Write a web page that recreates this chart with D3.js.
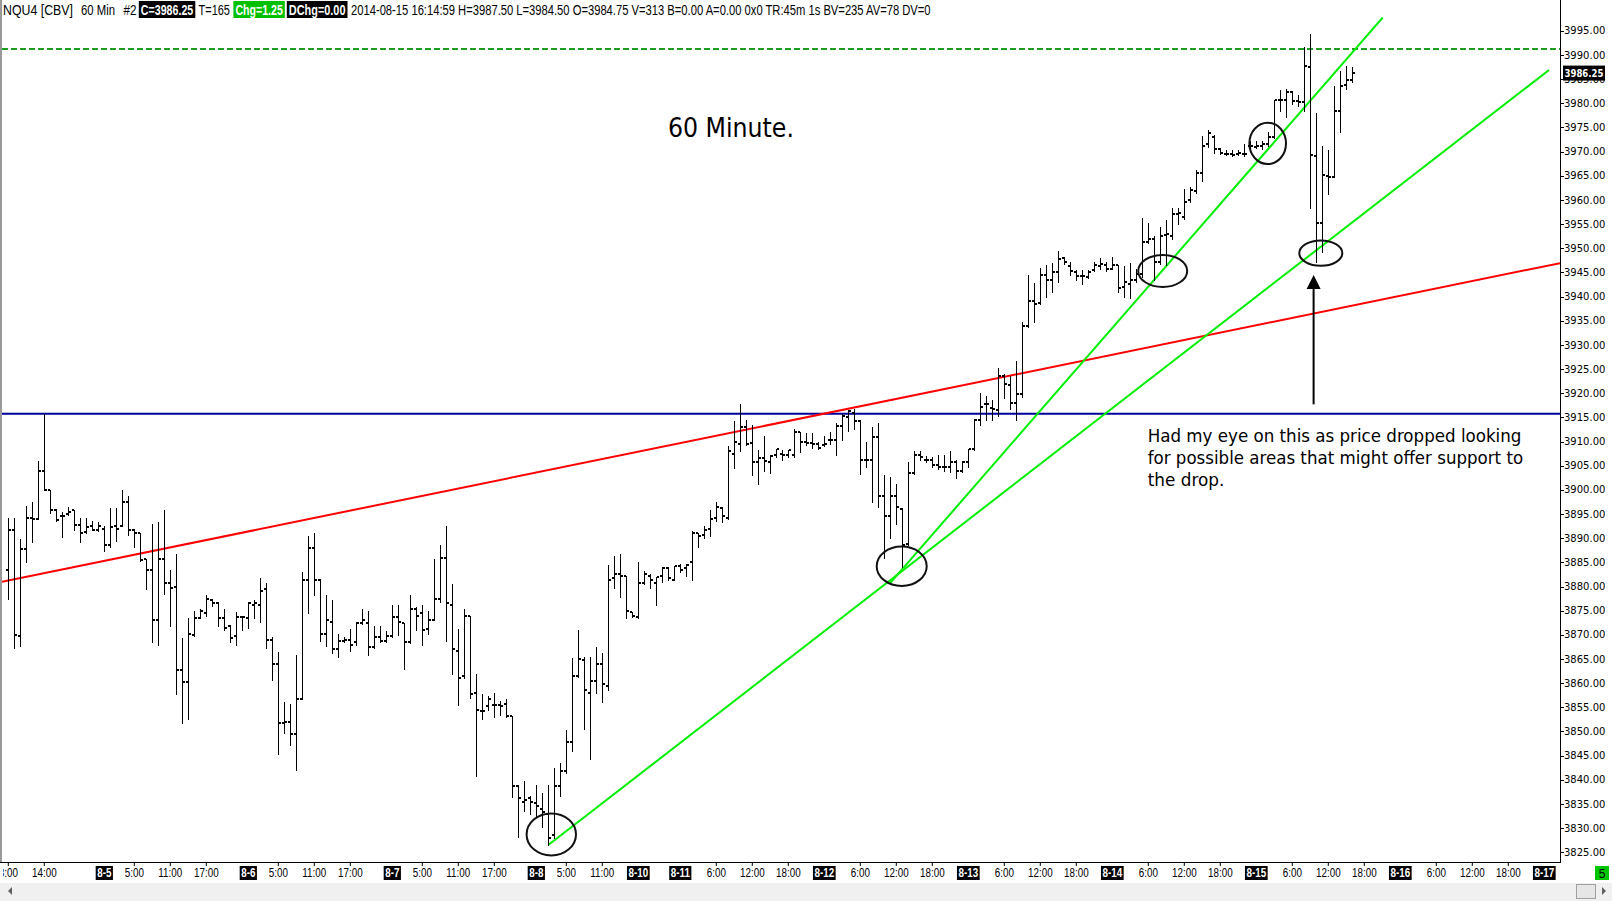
<!DOCTYPE html>
<html><head><meta charset="utf-8">
<script src="https://cdn.jsdelivr.net/npm/d3@7/dist/d3.min.js"></script>
<style>body{margin:0;background:#fff;overflow:hidden}svg{display:block}</style>
</head><body>
<svg id="chart" width="1612" height="901"></svg>
<script>
// ---- DATA (60-minute bars, NQU4) ----
const opens=[3883.5,3891.75,3869.75,3887.75,3894.25,3894,3904,3900,3895.75,3894.5,3895,3895.75,3892.75,3891.25,3892.5,3891.75,3892,3888.5,3892.5,3892.5,3897.5,3891.75,3891,3885.75,3883.5,3873,3885.75,3880.75,3880,3862.75,3860.25,3870,
3873.5,3874.5,3877.25,3876.5,3873.5,3871.75,3869.75,3873.75,3873.5,3876.25,3876.25,3879.5,3869,3864,3851.75,3852,3849.5,3856.75,3881.25,3888,3881.25,3870.25,3872.75,3867,3868.75,3869,3868.5,3872.5,3872.5,3867.5,3869.5,3868.75,
3869.75,3873.75,3872.5,3868.5,3875.25,3874.5,3871.25,3873,3877.5,3886,3876.25,3866.75,3861.5,3874,3858,3854.25,3855.25,3855.5,3855.5,3855.75,3853.25,3838.75,3835.5,3836.25,3835.25,3834,3833,3828.5,3838.75,3841.75,3847.75,3861.5,3864.75,
3858,3860.5,3864,3859.5,3881.75,3882.5,3882.25,3874.75,3873.75,3880.75,3882.25,3880.75,3882.25,3883.75,3881.25,3884.25,3883.75,3885,3891,3890.75,3892,3894.25,3896.25,3894.25,3907.5,3909.5,3913,3909.75,3905.75,3906.5,3905.75,3907.25,3907.5,
3907.25,3907.25,3912,3910,3909.75,3909.5,3909.25,3910.25,3910.25,3913.25,3915,3916,3914.25,3906.25,3906.25,3911,3898.75,3894.5,3898.75,3896,3888.75,3903.5,3907.25,3906.25,3906.25,3905.25,3904.75,3904.75,3905.75,3904,3905.75,3908.5,
3914.5,3917.75,3917,3916.5,3923.5,3921.75,3918,3919.75,3934,3939,3938.75,3944.5,3943.5,3945,3948,3946.25,3945,3944.25,3944,3945.5,3946.25,3946.5,3945.75,3946.5,3942,3942.5,3943.5,3944.75,3951.25,3952,3947.25,3952.75,3952.5,
3957,3956.5,3960,3961.75,3965.5,3971.5,3973,3970.5,3969.5,3969.5,3969.5,3969.5,3971.25,3971,3971.25,3971.5,3973,3980.75,3980.75,3982.25,3980.5,3980.25,3987.5,3969,3955.25,3965,3964.75,3978.5,3983.75,3984.75];
const highs=[3894.25,3894.25,3889.75,3896.75,3897.5,3906,3915.75,3900,3896,3895.5,3896.5,3895.75,3894.25,3894.25,3893.5,3893.25,3892.5,3896.25,3896.25,3900,3898.75,3892,3891,3885.75,3893,3893.25,3895.75,3883.5,3886.75,3869.25,3873.5,3875,
3875.25,3878.25,3877.5,3876.75,3875.25,3872,3874.75,3874,3876.75,3877.25,3881.75,3880.75,3869.5,3866.5,3856,3855.75,3865.75,3883,3890.5,3891,3881.5,3878.25,3877.25,3870.25,3869.5,3871.25,3872.75,3875.25,3875,3871.75,3871.75,3870.75,
3876.25,3876.25,3872.5,3878.25,3875.75,3876.25,3875,3885.75,3888.5,3892.5,3880.5,3871.25,3875.25,3874,3862,3857.75,3857.25,3858,3856.25,3856.75,3853.25,3839,3839.75,3836.75,3839,3837.25,3839,3842.5,3843.5,3850.25,3865.25,3871,3865.5,
3865.5,3867.5,3866.25,3884.5,3886.25,3886.75,3882.25,3874.75,3885,3883.25,3882.5,3882,3884,3884,3884.25,3884.75,3884.75,3891.5,3891,3892.5,3895.75,3897.5,3896.5,3909,3914.25,3917.75,3914.5,3913.5,3908.25,3911.25,3907.25,3908.5,3908.25,
3908.25,3912.5,3912,3911.75,3911.75,3910,3911.25,3912,3913.75,3915.75,3916.5,3916.75,3914.5,3910,3913,3913.75,3903,3902.75,3901.25,3896.25,3905.75,3908,3908,3907,3906.75,3907.25,3907.25,3908,3906.25,3906,3908.5,3914.75,
3920,3919.5,3918.5,3925.25,3924,3923.5,3926.75,3934.75,3944.5,3942.75,3946,3946.5,3947,3949.5,3948.25,3947.25,3945.5,3945.5,3945.5,3947.25,3948,3947.25,3948.25,3946.5,3946.25,3947,3945.75,3956.25,3955.25,3952.5,3954.5,3955.75,3958.25,
3958.25,3962.25,3962.75,3966.25,3973.25,3974.5,3973.5,3970.75,3970.25,3970.25,3970.25,3971.5,3972.25,3972.25,3972.25,3974,3980.75,3982.75,3983,3982.5,3981.75,3991.75,3994.25,3978,3971.25,3970.25,3983.5,3986.75,3987.75,3987.5];
const lows=[3877.5,3867.25,3867.75,3885,3889.25,3894,3900,3895.25,3893.5,3890.25,3894.75,3891.75,3889.25,3891,3891.75,3891.5,3887.25,3888.25,3889.5,3892.5,3890.75,3888.25,3885.25,3879.5,3868.5,3868,3878.5,3871.75,3857.75,3851.75,3852.5,3869.75,
3873.5,3874,3876,3871.75,3871,3868.5,3868,3871,3871.5,3873.5,3872.75,3867.25,3860.75,3845.25,3849.75,3847.25,3842,3856.75,3874.5,3878.25,3868.75,3867.75,3866.25,3865.5,3868.5,3866.75,3868,3872.25,3865.75,3867.25,3868.5,3868.5,
3869.5,3870,3863,3868.25,3871,3868,3870.25,3873,3876.75,3868.75,3862,3855.5,3861,3857,3840.75,3852.5,3854.5,3853,3853.5,3853,3836.5,3828.25,3833.5,3833,3832.5,3830.25,3826.5,3828,3836.75,3841.5,3846,3861.25,3850.5,
3844.25,3858,3856,3858.5,3879.75,3877.75,3873.5,3873.75,3873.5,3880.5,3879.75,3876.25,3881,3881.25,3881.25,3883,3882.25,3881.25,3888.25,3890,3890.5,3893.5,3893.25,3894,3904.5,3908,3909.25,3903,3901.25,3904,3903.5,3906.75,3906.25,
3906.75,3906.75,3907.75,3909.25,3908.75,3908.5,3909,3909.5,3907.25,3910.25,3912.25,3912.5,3903.25,3904.75,3897.5,3896.5,3886,3890,3893,3884,3888.5,3903.25,3906.25,3905.75,3904.75,3904.25,3904,3903.75,3902.5,3903.75,3904.75,3908.25,
3913.5,3914.5,3914.5,3915.25,3919,3916.75,3914.5,3919.25,3933.75,3934.75,3938.5,3940,3941,3943,3946.75,3944.5,3943.5,3942.5,3943.75,3945.25,3945.75,3945.25,3945.75,3941,3940,3939.75,3943,3944,3951,3943.5,3946.75,3946.5,3952,
3955,3956,3959.5,3961.5,3964,3971,3969.75,3969.5,3969.25,3969,3969.25,3969,3970.75,3970.75,3970.5,3971.25,3972.75,3978.5,3977.25,3979.75,3979.5,3978.5,3958.25,3947.25,3949.25,3961.25,3964.75,3974,3983,3984.5];
const closes=[3891.75,3870,3887.75,3894.25,3894,3904,3900,3895.75,3893.75,3894.5,3895.5,3892.75,3891,3892.25,3891.75,3892.5,3888.5,3892.25,3892,3897.5,3891.75,3891,3885.5,3883.5,3873,3885.75,3880.75,3879.75,3862.75,3860.25,3870.25,3873.5,
3875,3877.5,3876.5,3873.5,3871.5,3869.25,3873.75,3873.75,3876.5,3876.5,3879,3869,3864,3851.75,3852,3849.5,3856.75,3881.25,3888,3881.25,3870.25,3873,3867,3868.75,3869,3868,3872.5,3873,3867.5,3869.5,3868.75,3869.75,
3873.75,3872.75,3868.5,3875.25,3874,3871,3873,3877.5,3886,3876.5,3867,3861,3874,3857.75,3854.5,3854.25,3856.75,3855.5,3855.25,3853.25,3838.75,3836.25,3835.75,3835.5,3834.5,3833.25,3828,3838.75,3841.75,3847.75,3861.5,3865,3858.5,
3860.5,3864,3859.75,3881.25,3882.5,3882.25,3875,3874,3880.75,3882.5,3881.25,3882,3883.75,3881.75,3884.25,3883.5,3884.5,3891,3890.5,3891.75,3894,3896.5,3894.5,3908,3910,3913,3909.5,3905.75,3906.5,3906,3907,3908.5,3907.25,
3908.25,3912,3910,3909.75,3909.5,3908.75,3909.5,3910.25,3913.25,3915.25,3916.25,3914.25,3906.25,3906.25,3911,3898.75,3894.5,3898.75,3896.5,3888.5,3903.5,3907.25,3906.75,3906.25,3905.25,3904.75,3904.75,3905.75,3904,3905.75,3908.5,3914.5,
3917.25,3917.75,3916.75,3923.5,3922,3918,3919.75,3934,3939,3938.5,3944.5,3943.5,3945,3947.75,3947.25,3945.25,3944.25,3944.25,3945,3946.5,3946.75,3945.75,3946.5,3941.75,3943,3943.5,3944.75,3951.25,3952,3947.25,3952.5,3953,3957,
3957.25,3959.5,3962,3965.5,3971.25,3973.75,3970.5,3969.75,3969.5,3969.25,3969.75,3969.5,3971.25,3971.25,3971.5,3973,3980.75,3980.75,3982.25,3980.5,3980.25,3987.75,3969.25,3955.25,3965.25,3964.75,3978.5,3983.5,3984.75,3986.25];

const timeTickSlots=[0,6,21,27,33,45,51,57,69,75,81,93,99,118,124,130,142,148,154,166,172,178,190,196,202,214,220,226,238,244,250];
const timeTickLabels=["8:00","14:00","5:00","11:00","17:00","5:00","11:00","17:00","5:00","11:00","17:00","5:00","11:00","6:00","12:00","18:00","6:00","12:00","18:00","6:00","12:00","18:00","6:00","12:00","18:00","6:00","12:00","18:00","6:00","12:00","18:00"];
const dateTickSlots=[16,40,64,88,105,112,136,160,184,208,232,256];
const dateTickLabels=["8-5","8-6","8-7","8-8","8-10","8-11","8-12","8-13","8-14","8-15","8-16","8-17"];
const priceTicks=[3825,3830,3835,3840,3845,3850,3855,3860,3865,3870,3875,3880,3885,3890,3895,3900,3905,3910,3915,3920,3925,3930,3935,3940,3945,3950,3955,3960,3965,3970,3975,3980,3985,3990,3995];
const lastPrice=3986.25;

// drawn studies (slot index, price)
const hLineBlue=3915.75, hLineDash=3991.25;
const redLine=[[0,3881.24],[250,3944.73]];
const greenA=[[90,3826.5],[256.8,3986.9]];
const greenB=[[147,3880.75],[229.07,3997.75]];
const ellipses=[[90.5,3828.7,24.7,21],[148.9,3884.2,25,19.7],[192.4,3945.3,24.5,16],[209.9,3971.7,18.3,20.7],[218.75,3949.0,21.5,12.7]];
const arrow=[217.55,3917.7,3944.46];

// ---- LAYOUT ----
const W=1612,H=901;
const plotL=2,plotR=1560,plotT=17,plotB=862;
const x=d3.scaleLinear().domain([0,256]).range([8.3,1544.3]);
const y=d3.scaleLinear().domain([3825,3995]).range([852.3,30.8]);
const svg=d3.select("#chart");
svg.append("rect").attr("width",W).attr("height",H).attr("fill","#fff");
const defs=svg.append("defs");
defs.append("clipPath").attr("id","plot").append("rect").attr("x",plotL).attr("y",plotT).attr("width",plotR-plotL).attr("height",plotB-plotT);
defs.append("clipPath").attr("id","xlab").append("rect").attr("x",3).attr("y",plotB).attr("width",plotR-3).attr("height",30);

// left border
svg.append("rect").attr("x",0).attr("y",0).attr("width",2).attr("height",plotB).attr("fill","#9a9a9a");

const g=svg.append("g").attr("clip-path","url(#plot)");
g.append("line").attr("x1",plotL).attr("x2",plotR).attr("y1",y(hLineDash)).attr("y2",y(hLineDash))
 .attr("stroke","#1e9e1e").attr("stroke-width",2).attr("stroke-dasharray","6,3");
g.append("line").attr("x1",plotL).attr("x2",plotR).attr("y1",y(hLineBlue)).attr("y2",y(hLineBlue))
 .attr("stroke","#00009c").attr("stroke-width",2);
{
 const [[s0,p0],[s1,p1]]=redLine; const k=(p1-p0)/(s1-s0);
 const sL=x.invert(plotL), sR=x.invert(plotR);
 g.append("line").attr("x1",plotL).attr("y1",y(p0+k*(sL-s0))).attr("x2",plotR).attr("y2",y(p0+k*(sR-s0)))
  .attr("stroke","#ff0000").attr("stroke-width",2);
}
[greenA,greenB].forEach(l=>{
 g.append("line").attr("x1",x(l[0][0])).attr("y1",y(l[0][1])).attr("x2",x(l[1][0])).attr("y2",y(l[1][1]))
  .attr("stroke","#00ee00").attr("stroke-width",2);
});

// bars
const bars=opens.map((o,i)=>({i,o,h:highs[i],l:lows[i],c:closes[i]}));
const bg=g.append("g").attr("fill","#000").attr("shape-rendering","crispEdges");
bars.forEach(d=>{
 const x0=Math.round(x(d.i));
 const yh=Math.round(y(d.h)), yl=Math.round(y(d.l));
 bg.append("rect").attr("x",x0).attr("y",yh).attr("width",1).attr("height",Math.max(1,yl-yh+1));
 bg.append("rect").attr("x",x0-2).attr("y",Math.round(y(d.o))-1).attr("width",2).attr("height",2);
 bg.append("rect").attr("x",x0+1).attr("y",Math.round(y(d.c))-1).attr("width",2).attr("height",2);
});

g.selectAll("ellipse.an").data(ellipses).enter().append("ellipse")
 .attr("cx",d=>x(d[0])).attr("cy",d=>y(d[1])).attr("rx",d=>d[2]).attr("ry",d=>d[3])
 .attr("fill","none").attr("stroke","#111").attr("stroke-width",2);
{
 const ax=x(arrow[0]), yb=y(arrow[1]), yt=y(arrow[2]);
 svg.append("line").attr("x1",ax).attr("x2",ax).attr("y1",yb).attr("y2",yt+12).attr("stroke","#000").attr("stroke-width",2);
 svg.append("path").attr("d",`M${ax},${yt} L${ax-7},${yt+14} L${ax+7},${yt+14} Z`).attr("fill","#000");
}

// text fitted horizontally via transform (keeps glyph height)
function fitText(parent,x0,y0,w,txt,attrs){
 const t=parent.append("text").attr("x",0).attr("y",0).text(txt);
 Object.entries(attrs).forEach(([k,v])=>t.attr(k,v));
 const nat=t.node().getComputedTextLength()||w;
 t.attr("transform",`translate(${x0},${y0}) scale(${w/nat},1)`);
 return t;
}
const annFont={"font-family":"'DejaVu Sans Condensed','DejaVu Sans',sans-serif","fill":"#000"};
fitText(svg,668,136.5,126,"60 Minute.",{...annFont,"font-size":27});
const ann=["Had my eye on this as price dropped looking","for possible areas that might offer support to","the drop."];
const annW=[374,375.6,76.6], annY=[441.7,464,486.3];
ann.forEach((t,k)=>fitText(svg,1147.7,annY[k],annW[k],t,{...annFont,"font-size":18}));

// right axis
svg.append("line").attr("x1",plotR+0.5).attr("x2",plotR+0.5).attr("y1",0).attr("y2",plotB).attr("stroke","#000").attr("stroke-width",1);
const ya=svg.append("g");
priceTicks.forEach(p=>{
 ya.append("line").attr("x1",plotR).attr("x2",plotR+4).attr("y1",Math.round(y(p))+0.5).attr("y2",Math.round(y(p))+0.5).attr("stroke","#000");
 ya.append("text").attr("x",1564).attr("y",y(p)).attr("dy","0.36em").attr("font-family","'DejaVu Sans',sans-serif")
  .attr("font-size",10).attr("fill","#000").text(p.toFixed(2));
});
ya.append("rect").attr("x",1563).attr("y",y(lastPrice)-7.5).attr("width",42).attr("height",15).attr("fill","#000");
fitText(ya,1564.5,y(lastPrice)+3.6,39,lastPrice.toFixed(2),{"font-family":"'DejaVu Sans',sans-serif","font-size":10,"font-weight":"bold","fill":"#fff"});

// bottom axis
svg.append("line").attr("x1",0).attr("x2",plotR+1).attr("y1",plotB+0.5).attr("y2",plotB+0.5).attr("stroke","#000");
const xa=svg.append("g").attr("clip-path","url(#xlab)");
timeTickSlots.forEach((s,k)=>{
 const xx=x(s);
 xa.append("line").attr("x1",xx).attr("x2",xx).attr("y1",plotB).attr("y2",plotB+4).attr("stroke","#000");
 xa.append("text").attr("transform",`translate(${xx},877) scale(0.82,1)`).attr("text-anchor","middle")
  .attr("font-family","'Liberation Sans',Arial,sans-serif").attr("font-size",12).attr("fill","#000").text(timeTickLabels[k]);
});
dateTickSlots.forEach((s,k)=>{
 const xx=x(s);
 const t=xa.append("text").attr("transform",`translate(${xx},877) scale(0.82,1)`).attr("text-anchor","middle")
  .attr("font-family","'Liberation Sans',Arial,sans-serif").attr("font-size",12).attr("font-weight","bold").attr("fill","#fff").text(dateTickLabels[k]);
 const w=t.node().getComputedTextLength()*0.82+3;
 xa.insert("rect","text").attr("x",xx-w/2).attr("y",866).attr("width",w).attr("height",14).attr("fill","#000");
});
svg.append("rect").attr("x",1595).attr("y",866).attr("width",14).attr("height",14).attr("fill","#00c800");
svg.append("text").attr("x",1602).attr("y",877.5).attr("text-anchor","middle").attr("font-family","'Liberation Sans',Arial,sans-serif")
 .attr("font-size",12).attr("fill","#000").text("5");

// scrollbar
svg.append("rect").attr("x",0).attr("y",883).attr("width",W).attr("height",18).attr("fill","#f0f0f0");
svg.append("path").attr("d","M8,891 L12,887 L12,895 Z").attr("fill","#606060");
svg.append("rect").attr("x",1576.5).attr("y",884.5).attr("width",19).attr("height",14).attr("fill","#e6e6e6").attr("stroke","#a0a0a0");
svg.append("path").attr("d","M1602,887 L1606,891 L1602,895 Z").attr("fill","#606060");

// header
const hd=svg.append("g");
const hFont={"font-family":"'Liberation Sans',Arial,sans-serif","font-size":14};
const plain=[["NQU4 [CBV]",3,70],["60 Min",81,34],["#2",123.5,13],["T=165",198.5,31.5],["2014-08-15 16:14:59 H=3987.50 L=3984.50 O=3984.75 V=313 B=0.00 A=0.00 0x0 TR:45m 1s BV=235 AV=78 DV=0",351,580]];
plain.forEach(([t,x0,w])=>fitText(hd,x0,15,w,t,{...hFont,"fill":"#000"}));
const boxes=[["C=3986.25",138.8,195.3,"#000"],["Chg=1.25",233.4,284.8,"#00c000"],["DChg=0.00",286.8,347.5,"#000"]];
boxes.forEach(([t,a,b,col])=>{
 hd.append("rect").attr("x",a).attr("y",1).attr("width",b-a).attr("height",17).attr("fill",col);
 fitText(hd,a+2,15,b-a-4,t,{...hFont,"font-weight":"bold","fill":"#fff"});
});
</script>
</body></html>
